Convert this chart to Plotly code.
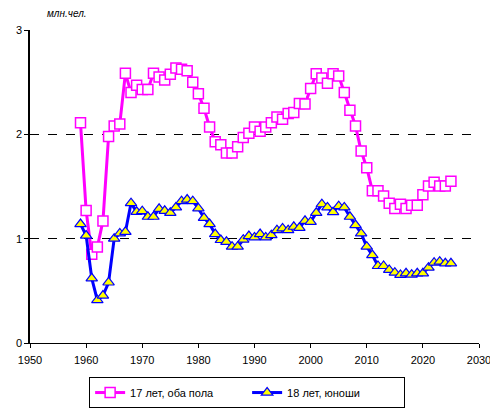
import plotly.graph_objects as go

years = list(range(1959, 2026))

# 17 лет, оба пола (млн. чел.)
both_17 = [2.11, 1.27, 0.85, 0.92, 1.17, 1.98, 2.08, 2.10, 2.585, 2.40,
           2.47, 2.43, 2.43, 2.585, 2.55, 2.52, 2.575, 2.635, 2.625, 2.61,
           2.50, 2.39, 2.25, 2.07, 1.93, 1.90, 1.82, 1.82, 1.88, 1.97,
           2.01, 2.07, 2.03, 2.07, 2.11, 2.165, 2.145, 2.20, 2.21, 2.295,
           2.29, 2.44, 2.58, 2.54, 2.49, 2.58, 2.56, 2.40, 2.23, 2.08,
           1.84, 1.68, 1.46, 1.46, 1.41, 1.34, 1.29, 1.33, 1.29, 1.32,
           1.32, 1.42, 1.505, 1.54, 1.505, 1.505, 1.55]

# 18 лет, юноши (млн. чел.)
boys_18 = [1.14, 1.03, 0.62, 0.41, 0.455, 0.58, 1.00, 1.05, 1.066, 1.34,
           1.257, 1.264, 1.21, 1.21, 1.286, 1.267, 1.248, 1.30, 1.36, 1.375,
           1.36, 1.29, 1.20, 1.14, 1.044, 0.987, 0.97, 0.923, 0.923, 0.99,
           1.025, 1.012, 1.044, 1.012, 1.034, 1.082, 1.098, 1.082, 1.114, 1.104,
           1.171, 1.161, 1.248, 1.33, 1.30, 1.254, 1.311, 1.30, 1.21, 1.13,
           1.05, 0.923, 0.843, 0.738, 0.738, 0.70, 0.674, 0.652, 0.668, 0.655,
           0.668, 0.668, 0.722, 0.77, 0.779, 0.764, 0.764]

fnt = "Arial, Liberation Sans, sans-serif"

fig = go.Figure()
fig.add_trace(go.Scatter(
    x=years, y=both_17, mode="lines+markers", name="17 лет, оба пола",
    line=dict(color="#FF00FF", width=3),
    marker=dict(symbol="square", size=10, color="white",
                line=dict(color="#FF00FF", width=1.5))))
fig.add_trace(go.Scatter(
    x=years, y=boys_18, mode="lines+markers", name="18 лет, юноши",
    line=dict(color="#0000FF", width=3),
    marker=dict(symbol="triangle-up", size=10, color="#FFFF00",
                line=dict(color="#0000FF", width=1.2))))

# page body adds an 8px offset, so the figure is drawn 8px smaller
fig.update_layout(
    width=490, height=402,
    margin=dict(l=22, r=19, t=22, b=67),
    paper_bgcolor="white", plot_bgcolor="white",
    font=dict(family=fnt, size=11, color="black"),
    showlegend=True,
    legend=dict(orientation="h", xref="container", yref="container",
                x=0.488, xanchor="center", y=0.082, yanchor="top",
                bordercolor="black", borderwidth=1, font=dict(size=11),
                entrywidth=112, itemwidth=30, tracegroupgap=0),
    annotations=[dict(text="<i>млн.чел.</i>", xref="paper", yref="paper",
                      x=0.033, y=1, xanchor="left", yanchor="bottom", yshift=9,
                      showarrow=False, font=dict(size=10))])

fig.update_xaxes(range=[1950, 2030], dtick=10, tick0=1950, showgrid=False,
                 showline=True, linecolor="black", linewidth=1,
                 ticks="outside", ticklen=4, tickcolor="black", zeroline=False,
                 ticklabelstandoff=3, automargin=False)
fig.update_yaxes(range=[0, 3], dtick=1, showgrid=True, gridcolor="black",
                 griddash="dash", gridwidth=1,
                 showline=True, linecolor="black", linewidth=1.5,
                 ticks="outside", ticklen=4, tickcolor="black", zeroline=False,
                 automargin=False)

fig.write_html("out.html")
